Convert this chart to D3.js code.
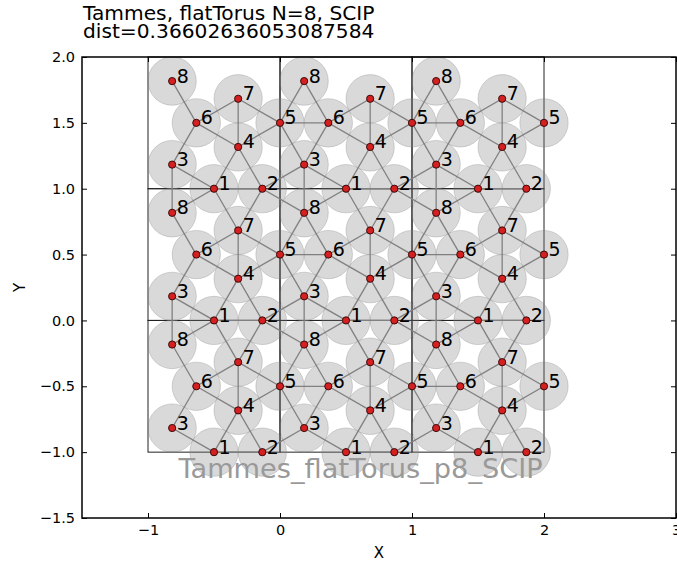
<!DOCTYPE html>
<html><head><meta charset="utf-8">
<script src="https://cdn.jsdelivr.net/npm/d3@7/dist/d3.min.js"></script>
<style>body{margin:0;background:#fff} text{font-family:"DejaVu Sans",sans-serif}</style>
</head><body><svg id="chart" width="677" height="563"></svg>
<script>
const titleLines = ["Tammes, flatTorus N=8, SCIP", "dist=0.36602636053087584"];
const watermark = "Tammes_flatTorus_p8_SCIP";
const pointLabels = ["1","2","3","4","5","6","7","8"];
const pointX = [0.500, 0.866, 0.183, 0.683, 1.000, 0.366, 0.683, 0.183];
const pointY = [0.000, 0.000, 0.183, 0.317, 0.500, 0.500, 0.683, 0.817];
const minDist = 0.36602636053087584;
const tileShifts = [-1, 0, 1];
const xTicks = [-1, 0, 1, 2, 3];
const yTicks = [-1.5, -1, -0.5, 0, 0.5, 1, 1.5, 2];
const xDomain = [-1.5, 3];
const yDomain = [-1.5, 2];
const watermarkPos = [0.61, -1.2];

const svg = d3.select("#chart");
const L = 82, R = 676, T = 57, B = 518;
const x = d3.scaleLinear().domain(xDomain).range([L, R]);
const y = d3.scaleLinear().domain(yDomain).range([B, T]);
const minus = s => s.replace("-", "\u2212");

// replicas
const reps = [];
tileShifts.forEach(sx => tileShifts.forEach(sy => {
  pointX.forEach((px, i) => reps.push({x: px + sx, y: pointY[i] + sy, label: pointLabels[i]}));
}));
const edges = [];
for (let a = 0; a < reps.length; a++) for (let b = a + 1; b < reps.length; b++) {
  const d = Math.hypot(reps[a].x - reps[b].x, reps[a].y - reps[b].y);
  if (Math.abs(d - minDist) < 0.008) edges.push([reps[a], reps[b]]);
}
const tiles = [];
tileShifts.forEach(sx => tileShifts.forEach(sy => tiles.push({x0: sx, y0: sy})));

const g = svg.append("g");
g.selectAll("rect.tile").data(tiles).join("rect").attr("class","tile")
  .attr("x", d => x(d.x0)).attr("y", d => y(d.y0 + 1))
  .attr("width", d => x(d.x0 + 1) - x(d.x0)).attr("height", d => y(d.y0) - y(d.y0 + 1))
  .attr("fill","none").attr("stroke","#222").attr("stroke-width",1);

g.selectAll("circle.disk").data(reps).join("circle").attr("class","disk")
  .attr("cx", d => x(d.x)).attr("cy", d => y(d.y))
  .attr("r", x(minDist/2) - x(0))
  .attr("fill","#808080").attr("fill-opacity",0.3)
  .attr("stroke","#808080").attr("stroke-opacity",0.3).attr("stroke-width",1);

g.selectAll("line.edge").data(edges).join("line").attr("class","edge")
  .attr("x1", d => x(d[0].x)).attr("y1", d => y(d[0].y))
  .attr("x2", d => x(d[1].x)).attr("y2", d => y(d[1].y))
  .attr("stroke","#808080").attr("stroke-width",1.3);

g.selectAll("circle.pt").data(reps).join("circle").attr("class","pt")
  .attr("cx", d => x(d.x)).attr("cy", d => y(d.y)).attr("r", 3.6)
  .attr("fill","#d42020").attr("stroke","#3a0a0a").attr("stroke-width",1);

g.selectAll("text.lab").data(reps).join("text").attr("class","lab")
  .attr("x", d => x(d.x) + 4.5).attr("y", d => y(d.y) + 1.5)
  .attr("font-size", 19).attr("fill","#000").text(d => d.label);

svg.append("text").attr("x", x(watermarkPos[0])).attr("y", y(watermarkPos[1]))
  .attr("text-anchor","middle").attr("font-size",27.2).attr("fill","#999").text(watermark);

// axes (ticks inside)
const fs = 14.5;
const ax = svg.append("g").attr("transform", `translate(0,${B})`)
  .call(d3.axisBottom(x).tickValues(xTicks).tickSize(-5).tickPadding(7).tickFormat(d => minus(d3.format("d")(d))));
const axTop = svg.append("g").attr("transform", `translate(0,${T})`)
  .call(d3.axisTop(x).tickValues(xTicks).tickSize(-5).tickFormat(""));
const ay = svg.append("g").attr("transform", `translate(${L},0)`)
  .call(d3.axisLeft(y).tickValues(yTicks).tickSize(-5).tickPadding(7).tickFormat(d => minus(d3.format(".1f")(d))));
const ayR = svg.append("g").attr("transform", `translate(${R},0)`)
  .call(d3.axisRight(y).tickValues(yTicks).tickSize(-5).tickFormat(""));
[ax, axTop, ay, ayR].forEach(a => {
  a.select(".domain").remove();
  a.selectAll("text").attr("font-family","DejaVu Sans, sans-serif").attr("font-size", fs).attr("fill","#000");
  a.selectAll("line").attr("stroke","#000");
});

svg.append("rect").attr("x", L).attr("y", T).attr("width", R - L).attr("height", B - T)
  .attr("fill","none").attr("stroke","#000").attr("stroke-width",1.5);

svg.append("text").attr("x", (L + R) / 2).attr("y", 558).attr("text-anchor","middle")
  .attr("font-size", 15).text("X");
svg.append("text").attr("transform", `translate(25,${(T + B) / 2}) rotate(-90)`).attr("text-anchor","middle")
  .attr("font-size", 15).text("Y");

svg.append("g").selectAll("text").data(titleLines).join("text")
  .attr("x", 83).attr("y", (d, i) => 19.5 + i * 18.3)
  .attr("font-size", 20.2).attr("fill","#000").text(d => d);
</script></body></html>
